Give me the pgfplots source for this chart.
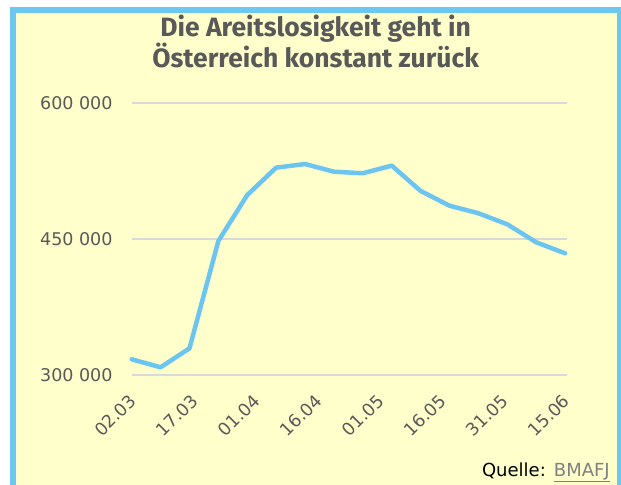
\documentclass[border=0pt]{standalone}
\usepackage{pgfplots}
\pgfplotsset{compat=1.18}
\usepackage{fontspec}
\setmainfont{DejaVu Sans}
\newfontfamily\titlefont{Fira Sans}
\definecolor{bg}{HTML}{FFFFCC}
\definecolor{frame}{HTML}{6CC8F0}
\definecolor{linec}{HTML}{6CC5F0}
\definecolor{txt}{HTML}{595959}
\definecolor{gridc}{HTML}{D9D9D9}
\begin{document}
\begin{tikzpicture}[x=1bp,y=1bp]
\fill[white] (0,0) rectangle (621,485);
\fill[frame] (10,0) rectangle (621,478);
\fill[bg] (16,0) rectangle (617,472);
\node[anchor=base, inner sep=0pt, font=\titlefont\fontsize{26.5bp}{30bp}\selectfont\bfseries, text=txt] at (315.6,448.3) {Die Areitslosigkeit geht in};
\node[anchor=base, inner sep=0pt, font=\titlefont\fontsize{26.5bp}{30bp}\selectfont\bfseries, text=txt] at (315.6,417.7) {Österreich konstant zurück};
\node[anchor=base east, inner sep=0pt, font=\fontsize{18bp}{21bp}\selectfont] at (610,8.3) {Quelle:\hspace{0.45em}\textcolor{gray}{\underline{BMAFJ}}};
\begin{axis}[
  at={(131.7bp,110bp)}, anchor=south west,
  scale only axis, width=435bp, height=272bp,
  xmin=0, xmax=105.4, ymin=300000, ymax=600000,
  axis line style={draw=none},
  major tick length=0pt,
  scaled y ticks=false,
  ytick={300000,450000,600000},
  yticklabels={300 000,450 000,600 000},
  xtick={0,15,...,105},
  xticklabels={02.03,17.03,01.04,16.04,01.05,16.05,31.05,15.06},
  ymajorgrids,
  grid style={gridc, line width=1.5bp},
  ticklabel style={font=\fontsize{17.5bp}{20bp}\selectfont, text=txt},
  yticklabel style={inner sep=0pt, xshift=-19bp},
  xticklabel style={rotate=45, anchor=east, inner sep=0pt, xshift=-15bp, yshift=-17bp},
  clip=false,
]
\addplot[linec, line width=4.5bp, line join=round, line cap=round, mark=none] coordinates {
(0,317300) (7,308500) (14,329400) (21,447800) (28,498500) (35,528700)
(42,532700) (49,524200) (56,522500) (63,530900) (70,503000) (77,486700)
(84,478400) (91,466200) (98,446400) (105,434200)
};
\end{axis}
\pgfresetboundingbox
\useasboundingbox (0,0) rectangle (621,485);
\end{tikzpicture}
\end{document}
